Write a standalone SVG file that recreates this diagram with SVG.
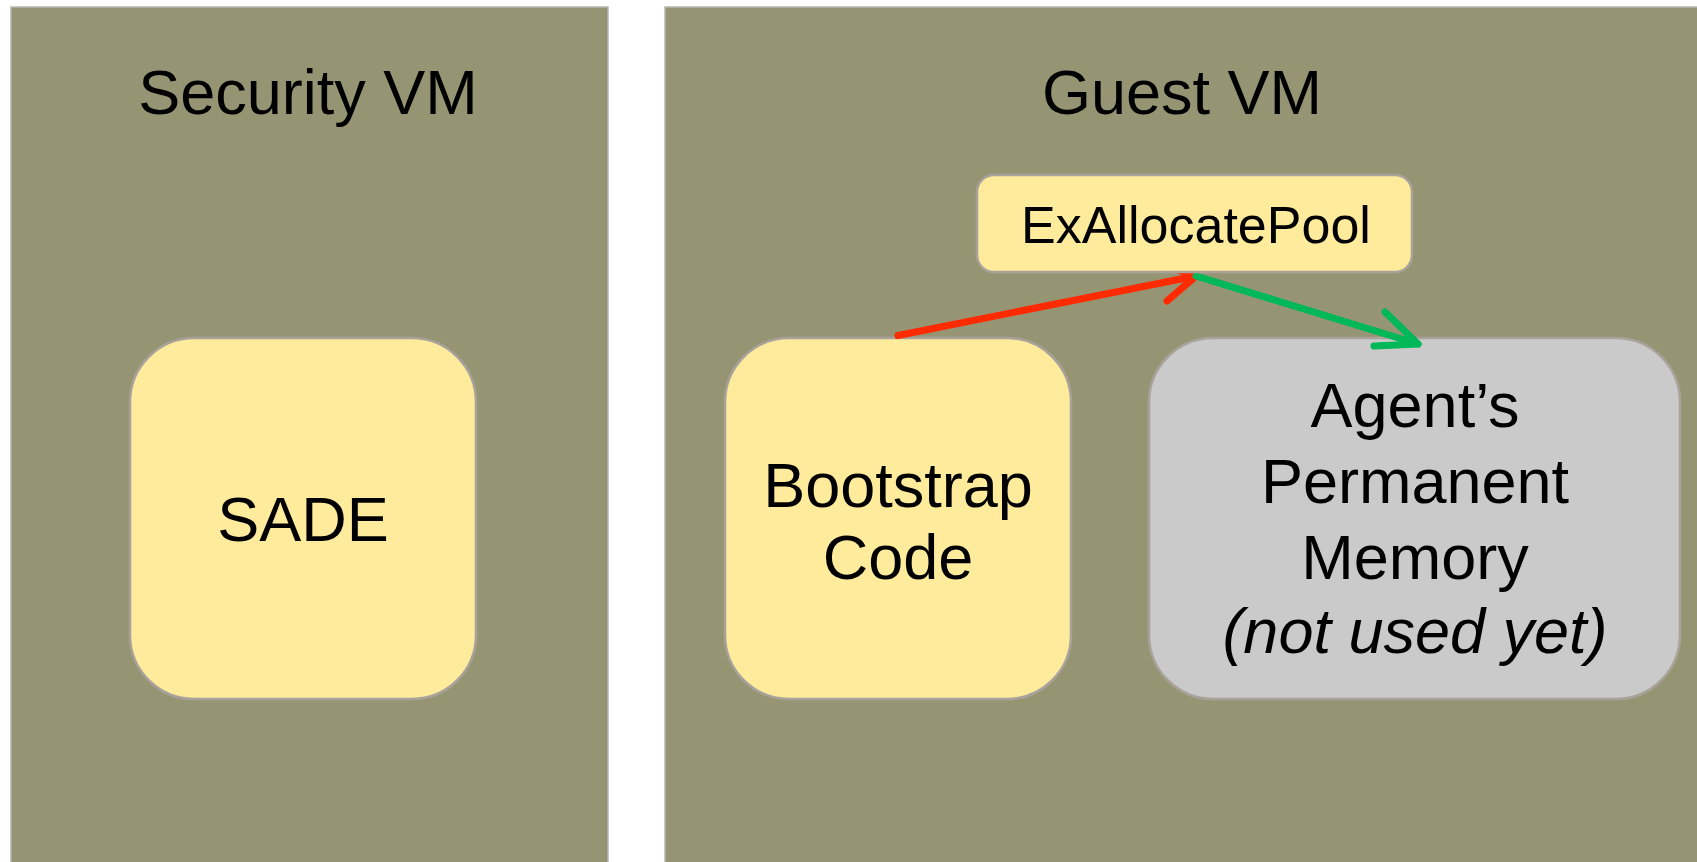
<svg xmlns="http://www.w3.org/2000/svg" width="1697" height="862" viewBox="0 0 1697 862">
  <style>
    .panel { fill: #969573; stroke: #b5b5b0; stroke-width: 1.5; }
    .box { fill: #ffeb9c; stroke: #a8a29a; stroke-width: 2.5; }
    .grey { fill: #cacaca; stroke: #a8a29a; stroke-width: 2.5; }
    .t { font-family: "Liberation Sans", Arial, sans-serif; font-size: 63px; fill: #000; text-anchor: middle; }
    .s { font-size: 52px; }
    .i { font-style: italic; }
    .red { stroke: #ff2b00; stroke-width: 7; fill: none; stroke-linecap: round; stroke-linejoin: round; }
    .green { stroke: #00b858; stroke-width: 7; fill: none; stroke-linecap: round; stroke-linejoin: round; }
  </style>
  <rect width="1697" height="862" fill="#ffffff"/>

  <g id="security-vm">
    <rect class="panel" x="11" y="7" width="597" height="870"/>
    <text class="t" x="308" y="114">Security VM</text>
  </g>

  <g id="guest-vm">
    <rect class="panel" x="665" y="7" width="1050" height="870"/>
    <text class="t" x="1182" y="114">Guest VM</text>
  </g>

  <g id="sade">
    <rect class="box" x="130" y="338" width="346" height="361" rx="64"/>
    <text class="t" x="303" y="541">SADE</text>
  </g>

  <g id="bootstrap-code">
    <rect class="box" x="725" y="338" width="346" height="361" rx="64"/>
    <text class="t" x="898" y="507">Bootstrap</text>
    <text class="t" x="898" y="579">Code</text>
  </g>

  <g id="agent-memory">
    <rect class="grey" x="1149" y="338" width="531" height="361" rx="64"/>
    <text class="t" x="1415" y="427">Agent’s</text>
    <text class="t" x="1415" y="503">Permanent</text>
    <text class="t" x="1415" y="579">Memory</text>
    <text class="t i" x="1415" y="653">(not used yet)</text>
  </g>

  <g id="connectors">
    <!-- allocation call -->
    <path class="red" d="M898 335.5 L1196 276"/>
    <path class="red" d="M1167 301 L1196 276 L1160 264"/>
    <!-- returned pool -->
    <path class="green" d="M1196 276 L1418 344"/>
    <path class="green" d="M1385 312 L1418 344 L1374 346"/>
  </g>

  <g id="exallocatepool">
    <rect class="box" x="977" y="175" width="435" height="97" rx="17"/>
    <text class="t s" x="1196" y="243">ExAllocatePool</text>
  </g>
</svg>
